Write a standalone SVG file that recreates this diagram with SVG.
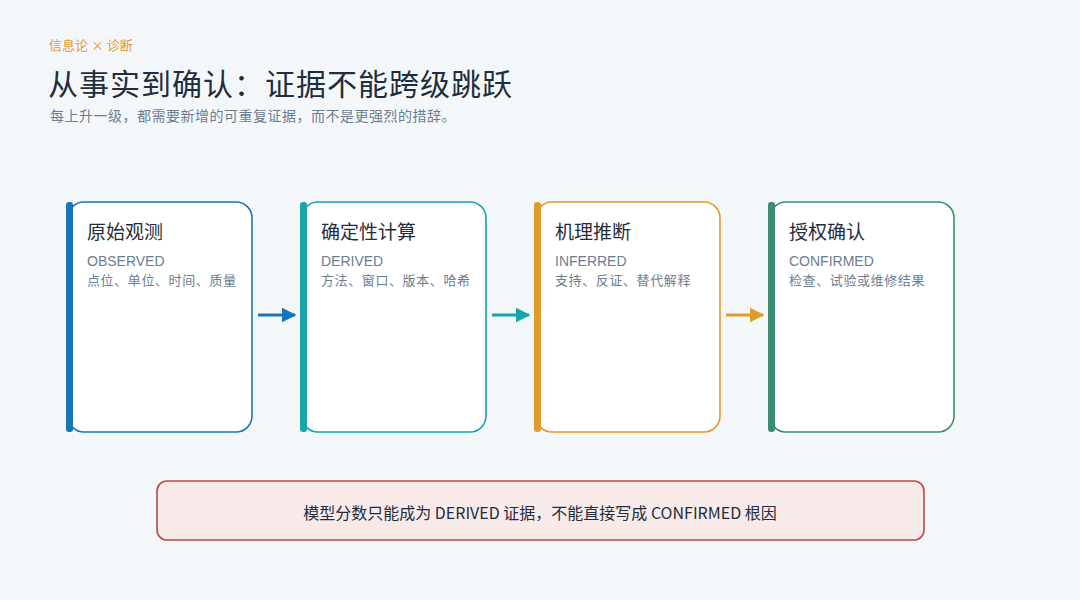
<svg xmlns="http://www.w3.org/2000/svg" width="1080" height="600" viewBox="0 0 1080 600">
<style>
text{font-family:"Noto Sans CJK SC","Liberation Sans",sans-serif}
.card{fill:#fff;stroke-width:1.6}
.t{font-size:19px;fill:#1f2d3d}
.en{font-family:"Liberation Sans","Noto Sans CJK SC",sans-serif;font-size:14px;fill:#6b7d8f}
.d{font-size:13px;fill:#6b7d8f;letter-spacing:0.6px}
</style>
<defs>
<marker id="a1" viewBox="0 0 10 10" refX="9" refY="5" markerWidth="5" markerHeight="5" orient="auto"><path d="M0 0L10 5L0 10z" fill="#1a75b8"/></marker>
<marker id="a2" viewBox="0 0 10 10" refX="9" refY="5" markerWidth="5" markerHeight="5" orient="auto"><path d="M0 0L10 5L0 10z" fill="#17a5ab"/></marker>
<marker id="a3" viewBox="0 0 10 10" refX="9" refY="5" markerWidth="5" markerHeight="5" orient="auto"><path d="M0 0L10 5L0 10z" fill="#e09b2d"/></marker>
</defs>
<rect width="1080" height="600" fill="#f4f7fa"/>
<text x="49" y="50" font-size="13" fill="#e09b2d">信息论 × 诊断</text>
<text x="48" y="95" font-size="30" fill="#1f2d3d" letter-spacing="1">从事实到确认：证据不能跨级跳跃</text>
<text x="50" y="121" font-size="14" fill="#6b7d8f" letter-spacing="0.5">每上升一级，都需要新增的可重复证据，而不是更强烈的措辞。</text>
<g id="n1"><rect class="card" x="68" y="202" width="184" height="230" rx="16" stroke="#1a75b8"/><rect x="66" y="202" width="7" height="230" rx="3" fill="#1a75b8"/>
<text class="t" x="87" y="239">原始观测</text><text class="en" x="87" y="266">OBSERVED</text><text class="d" x="87" y="285">点位、单位、时间、质量</text></g>
<g id="n2"><rect class="card" x="302" y="202" width="184" height="230" rx="16" stroke="#17a5ab"/><rect x="300" y="202" width="7" height="230" rx="3" fill="#17a5ab"/>
<text class="t" x="321" y="239">确定性计算</text><text class="en" x="321" y="266">DERIVED</text><text class="d" x="321" y="285">方法、窗口、版本、哈希</text></g>
<g id="n3"><rect class="card" x="536" y="202" width="184" height="230" rx="16" stroke="#e09b2d"/><rect x="534" y="202" width="7" height="230" rx="3" fill="#e09b2d"/>
<text class="t" x="555" y="239">机理推断</text><text class="en" x="555" y="266">INFERRED</text><text class="d" x="555" y="285">支持、反证、替代解释</text></g>
<g id="n4"><rect class="card" x="770" y="202" width="184" height="230" rx="16" stroke="#3a8c72"/><rect x="768" y="202" width="7" height="230" rx="3" fill="#3a8c72"/>
<text class="t" x="789" y="239">授权确认</text><text class="en" x="789" y="266">CONFIRMED</text><text class="d" x="789" y="285">检查、试验或维修结果</text></g>
<g id="connectors" stroke-width="3">
<line x1="258" y1="315" x2="295" y2="315" stroke="#1a75b8" marker-end="url(#a1)"/>
<line x1="492" y1="315" x2="529" y2="315" stroke="#17a5ab" marker-end="url(#a2)"/>
<line x1="726" y1="315" x2="763" y2="315" stroke="#e09b2d" marker-end="url(#a3)"/>
</g>
<g id="note"><rect x="157" y="481" width="767" height="59" rx="10" fill="#f9eaea" stroke="#b94a48" stroke-width="1.6"/>
<text x="540" y="519" font-size="16" fill="#1f2d3d" text-anchor="middle">模型分数只能成为 DERIVED 证据，不能直接写成 CONFIRMED 根因</text></g>
</svg>
